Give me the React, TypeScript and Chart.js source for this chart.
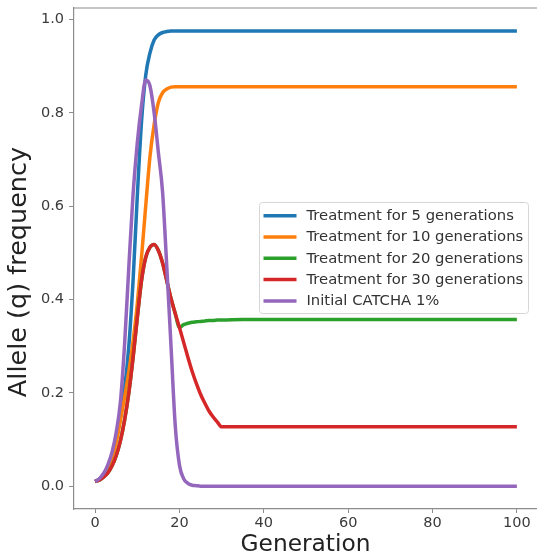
import React, { useEffect, useRef } from "react";
import { Chart, registerables } from "chart.js";

Chart.register(...registerables);

// ---- data ----
const generations = [
  0, 1, 2, 3, 4, 5, 6, 7, 8, 9, 10, 11, 12, 13, 14, 15, 16, 17, 18, 19, 20,
  21, 22, 23, 24, 25, 26, 27, 28, 29, 30, 35, 40, 50, 60, 70, 80, 90, 100,
];

const treat5 = [
  0.01, 0.015, 0.025, 0.04, 0.064, 0.1, 0.15, 0.21, 0.3, 0.44, 0.62,
  0.78, 0.88, 0.928, 0.956, 0.967, 0.972, 0.974, 0.975, 0.975, 0.975,
  0.975, 0.975, 0.975, 0.975, 0.975, 0.975, 0.975, 0.975, 0.975, 0.975,
  0.975, 0.975, 0.975, 0.975, 0.975, 0.975, 0.975, 0.975,
];

const treat10 = [
  0.01, 0.015, 0.024, 0.038, 0.06, 0.093, 0.14, 0.19, 0.245, 0.31, 0.39,
  0.49, 0.6, 0.705, 0.775, 0.822, 0.843, 0.851, 0.855, 0.856, 0.856,
  0.856, 0.856, 0.856, 0.856, 0.856, 0.856, 0.856, 0.856, 0.856, 0.856,
  0.856, 0.856, 0.856, 0.856, 0.856, 0.856, 0.856, 0.856,
];

const treat20 = [
  0.01, 0.013, 0.019, 0.028, 0.043, 0.065, 0.097, 0.142, 0.2, 0.275, 0.36,
  0.44, 0.49, 0.512, 0.518, 0.505, 0.478, 0.44, 0.402, 0.37, 0.34,
  0.346, 0.349, 0.351, 0.352, 0.353, 0.354, 0.355, 0.355, 0.356, 0.356,
  0.357, 0.357, 0.357, 0.357, 0.357, 0.357, 0.357, 0.357,
];

const treat30 = [
  0.01, 0.013, 0.019, 0.028, 0.043, 0.065, 0.097, 0.142, 0.2, 0.275, 0.36,
  0.44, 0.49, 0.512, 0.518, 0.505, 0.478, 0.44, 0.402, 0.37, 0.34,
  0.308, 0.276, 0.246, 0.22, 0.197, 0.178, 0.161, 0.148, 0.137, 0.127,
  0.127, 0.127, 0.127, 0.127, 0.127, 0.127, 0.127, 0.127,
];

const initialCatcha = [
  0.01, 0.016, 0.027, 0.045, 0.072, 0.115, 0.18, 0.305, 0.47, 0.625, 0.735,
  0.815, 0.87, 0.858, 0.8, 0.715, 0.63, 0.47, 0.3, 0.13, 0.045,
  0.016, 0.006, 0.002, 0.001, 0.0, 0.0, 0.0, 0.0, 0.0, 0.0,
  0.0, 0.0, 0.0, 0.0, 0.0, 0.0, 0.0, 0.0,
];

const seriesLabels = [
  "Treatment for 5 generations",
  "Treatment for 10 generations",
  "Treatment for 20 generations",
  "Treatment for 30 generations",
  "Initial CATCHA 1%",
];
const seriesValues = [treat5, treat10, treat20, treat30, initialCatcha];
const seriesColors = ["#1f77b4", "#ff7f0e", "#2ca02c", "#d62728", "#9467bd"];

const xAxisTitle = "Generation";
const yAxisTitle = "Allele (q) frequency";

const FONT = "'DejaVu Sans', sans-serif";

const framePlugin = {
  id: "frameTop",
  afterDatasetsDraw(chart: any) {
    const { ctx, chartArea } = chart;
    ctx.save();
    ctx.strokeStyle = "#8c8c8c";
    ctx.lineWidth = 1.2;
    ctx.beginPath();
    ctx.moveTo(chartArea.left, chartArea.top);
    ctx.lineTo(chartArea.right + 2, chartArea.top);
    ctx.stroke();

    // y axis title (rotated)
    ctx.translate(19, 272);
    ctx.rotate(-Math.PI / 2);
    ctx.font = `25.5px ${FONT}`;
    ctx.fillStyle = "#222222";
    ctx.textAlign = "center";
    ctx.textBaseline = "middle";
    ctx.fillText(yAxisTitle, 0, 0);
    ctx.restore();
  },
};

const legendPlugin = {
  id: "insideLegend",
  afterDraw(chart: any) {
    const { ctx } = chart;
    const x0 = 259.5;
    const y0 = 202.5;
    const w = 269;
    const h = 111;
    const r = 3;
    ctx.save();
    ctx.beginPath();
    ctx.moveTo(x0 + r, y0);
    ctx.lineTo(x0 + w - r, y0);
    ctx.arcTo(x0 + w, y0, x0 + w, y0 + r, r);
    ctx.lineTo(x0 + w, y0 + h - r);
    ctx.arcTo(x0 + w, y0 + h, x0 + w - r, y0 + h, r);
    ctx.lineTo(x0 + r, y0 + h);
    ctx.arcTo(x0, y0 + h, x0, y0 + h - r, r);
    ctx.lineTo(x0, y0 + r);
    ctx.arcTo(x0, y0, x0 + r, y0, r);
    ctx.closePath();
    ctx.fillStyle = "rgba(255,255,255,0.85)";
    ctx.fill();
    ctx.strokeStyle = "#d6d6d6";
    ctx.lineWidth = 1;
    ctx.stroke();

    ctx.font = `14.8px ${FONT}`;
    ctx.textBaseline = "middle";
    ctx.textAlign = "left";
    seriesLabels.forEach((label, i) => {
      const cy = 215.7 + i * 21.3;
      ctx.strokeStyle = seriesColors[i];
      ctx.lineWidth = 3.5;
      ctx.lineCap = "butt";
      ctx.beginPath();
      ctx.moveTo(263.5, cy);
      ctx.lineTo(296.5, cy);
      ctx.stroke();
      ctx.fillStyle = "#333333";
      ctx.fillText(label, 306.5, cy + 0.5);
    });
    ctx.restore();
  },
};

function zeroPadding(scale: any) {
  scale.paddingTop = 0;
  scale.paddingBottom = 0;
  scale.paddingLeft = 0;
  scale.paddingRight = 0;
}

export default function App() {
  const canvasRef = useRef<HTMLCanvasElement | null>(null);

  useEffect(() => {
    if (!canvasRef.current) return;
    const datasets = seriesLabels.map((label, i) => ({
      label,
      data: generations.map((g, j) => ({ x: g, y: seriesValues[i][j] })),
      borderColor: seriesColors[i],
      backgroundColor: seriesColors[i],
      borderWidth: 3.5,
      pointRadius: 0,
      pointHoverRadius: 0,
      fill: false,
      cubicInterpolationMode: "monotone" as const,
      order: seriesLabels.length - 1 - i,
    }));

    const chart = new Chart(canvasRef.current, {
      type: "line",
      data: { datasets },
      options: {
        animation: false,
        responsive: false,
        devicePixelRatio: 1,
        layout: { autoPadding: false, padding: { top: 8, left: 0, right: 0, bottom: 0 } },
        plugins: {
          legend: { display: false },
          tooltip: { enabled: false },
        },
        scales: {
          x: {
            type: "linear",
            min: -5,
            max: 104.77,
            border: { display: true, color: "#8c8c8c", width: 1.2 },
            grid: {
              display: true,
              drawOnChartArea: false,
              drawTicks: true,
              tickLength: 4,
              tickColor: "#8c8c8c",
            },
            ticks: {
              stepSize: 20,
              includeBounds: false,
              autoSkip: false,
              maxRotation: 0,
              padding: 2,
              color: "#3a3a3a",
              font: { family: FONT, size: 14.5 },
              callback: (v: any) => String(Math.round(Number(v))),
            },
            title: {
              display: true,
              text: xAxisTitle,
              color: "#222222",
              font: { family: FONT, size: 23.3, lineHeight: 1.1 },
              padding: { top: 0, bottom: 0 },
            },
            afterFit: (scale: any) => {
              scale.height = 49;
              zeroPadding(scale);
            },
          },
          y: {
            type: "linear",
            min: -0.049,
            max: 1.0245,
            border: { display: true, color: "#8c8c8c", width: 1.2 },
            grid: {
              display: true,
              drawOnChartArea: false,
              drawTicks: true,
              tickLength: 5,
              tickColor: "#8c8c8c",
            },
            ticks: {
              stepSize: 0.2,
              includeBounds: false,
              autoSkip: false,
              padding: 5,
              color: "#3a3a3a",
              font: { family: FONT, size: 14.5 },
              callback: (v: any) => Number(v).toFixed(1),
            },
            title: { display: false },
            afterFit: (scale: any) => {
              scale.width = 74;
              zeroPadding(scale);
            },
          },
        },
      },
      plugins: [framePlugin, legendPlugin],
    });
    return () => chart.destroy();
  }, []);

  return (
    <div
      style={{
        position: "absolute",
        left: 0,
        top: 0,
        width: 537,
        height: 558,
        background: "#ffffff",
      }}
    >
      <canvas ref={canvasRef} width={537} height={558} />
    </div>
  );
}
